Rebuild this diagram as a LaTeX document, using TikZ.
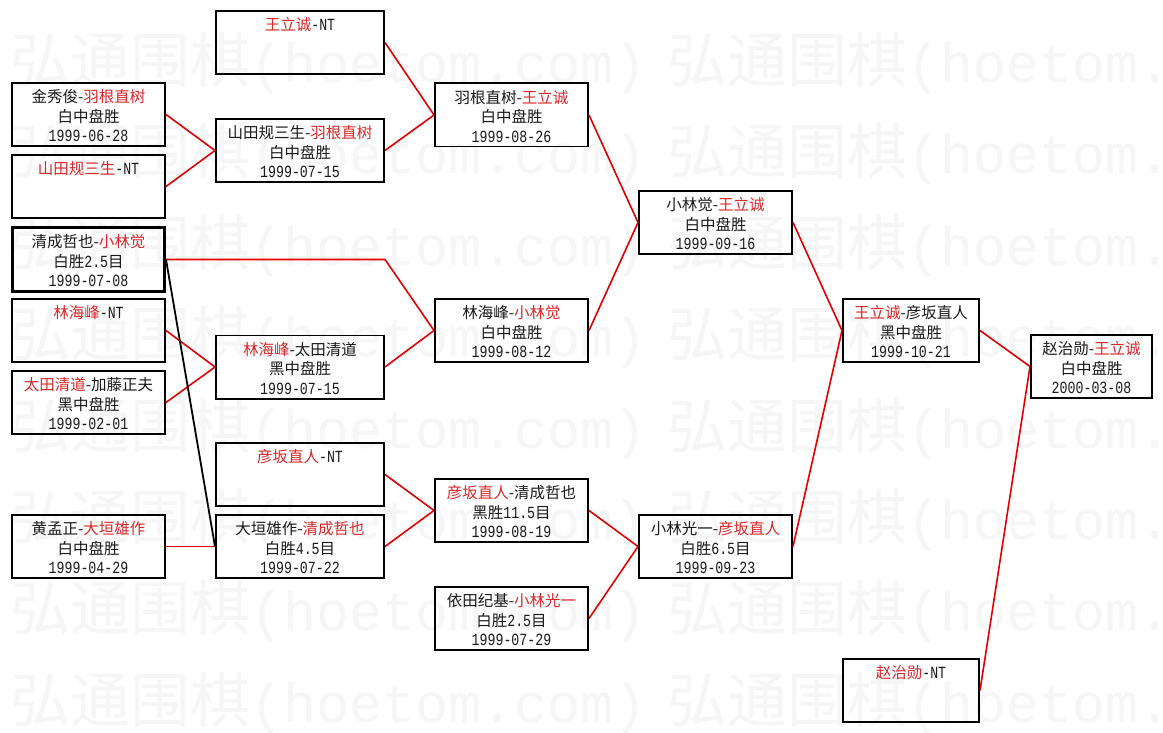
\documentclass[tikz,border=0pt]{standalone}
\usepackage{fontspec}
\setmainfont{Noto Sans CJK SC}
\newfontfamily\mono[FakeStretch=0.78]{Liberation Mono}
\newfontfamily\wmono{Liberation Mono}
\definecolor{tred}{RGB}{218,40,40}
\definecolor{lred}{RGB}{228,0,0}
\definecolor{txt}{RGB}{25,25,25}
\definecolor{wmgray}{RGB}{246,246,246}
\newcommand\R[1]{\textcolor{tred}{#1}}
\newcommand\M[1]{{\mono\fontsize{17}{19.5}\selectfont #1}}
\newcommand\gbox[2]{\begin{minipage}[c][63.4pt][t]{#1}\centering\fontsize{15.5}{19.5}\selectfont\rule{0pt}{20pt}#2\end{minipage}}
\tikzset{
  gamebox/.style={draw=black, line width=1.6pt, inner sep=0pt, minimum height=63.4pt, text=txt},
  curbox/.style={gamebox, line width=2.6pt},
  link/.style={draw=lred, line width=1.6pt},
  blink/.style={draw=black, line width=1.8pt},
  wm/.style={text=wmgray, inner sep=0pt, anchor=west, font=\fontsize{60}{60}\selectfont}
}
\begin{document}
\begin{tikzpicture}[x=1pt,y=-1pt]
\useasboundingbox (0,0) rectangle (1163,733);
\fill[white] (0,0) rectangle (1163,733);
% watermark
\foreach \wy in {63,154,246,337,429,520,611,703}{
  \foreach \wx in {10,667}{
    \node[wm] (wm-\wx-\wy) at (\wx,\wy) {弘通围棋{\wmono\fontsize{55}{55}\selectfont(hoetom.com)}};
  }
}
% column 1
\node[gamebox, minimum width=153.4pt] (B1) at (88.5,114.5) {\gbox{150pt}{金秀俊-\R{羽根直树}\\白中盘胜\\\M{1999-06-28}}};
\node[gamebox, minimum width=153.4pt] (B2) at (88.5,186.5) {\gbox{150pt}{\R{山田规三生}\M{-NT}}};
\node[curbox, minimum width=152.4pt, minimum height=62.4pt] (B3) at (88.5,259.5) {\gbox{150pt}{清成哲也-\R{小林觉}\\白胜\M{2.5}目\\\M{1999-07-08}}};
\node[gamebox, minimum width=153.4pt] (B4) at (88.5,330.5) {\gbox{150pt}{\R{林海峰}\M{-NT}}};
\node[gamebox, minimum width=153.4pt] (B5) at (88.5,402.5) {\gbox{150pt}{\R{太田清道}-加藤正夫\\黑中盘胜\\\M{1999-02-01}}};
\node[gamebox, minimum width=153.4pt] (B6) at (88.5,546.5) {\gbox{150pt}{黄孟正-\R{大垣雄作}\\白中盘胜\\\M{1999-04-29}}};
% column 2
\node[gamebox, minimum width=168.4pt] (A1) at (300,42.5) {\gbox{165pt}{\R{王立诚}\M{-NT}}};
\node[gamebox, minimum width=168.4pt] (A2) at (300,150.5) {\gbox{165pt}{山田规三生-\R{羽根直树}\\白中盘胜\\\M{1999-07-15}}};
\node[gamebox, minimum width=168.4pt] (A3) at (300,367) {\gbox{165pt}{\R{林海峰}-太田清道\\黑中盘胜\\\M{1999-07-15}}};
\node[gamebox, minimum width=168.4pt] (A4) at (300,474.5) {\gbox{165pt}{\R{彦坂直人}\M{-NT}}};
\node[gamebox, minimum width=168.4pt] (A5) at (300,546.5) {\gbox{165pt}{大垣雄作-\R{清成哲也}\\白胜\M{4.5}目\\\M{1999-07-22}}};
% column 3
\node[gamebox, minimum width=153.4pt] (C1) at (511.5,115) {\gbox{150pt}{羽根直树-\R{王立诚}\\白中盘胜\\\M{1999-08-26}}};
\node[gamebox, minimum width=153.4pt] (C2) at (511.5,330.5) {\gbox{150pt}{林海峰-\R{小林觉}\\白中盘胜\\\M{1999-08-12}}};
\node[gamebox, minimum width=153.4pt] (C3) at (511.5,510.5) {\gbox{150pt}{\R{彦坂直人}-清成哲也\\黑胜\M{11.5}目\\\M{1999-08-19}}};
\node[gamebox, minimum width=153.4pt] (C4) at (511.5,618.5) {\gbox{150pt}{依田纪基-\R{小林光一}\\白胜\M{2.5}目\\\M{1999-07-29}}};
% column 4
\node[gamebox, minimum width=153.4pt] (D1) at (715.5,222.5) {\gbox{150pt}{小林觉-\R{王立诚}\\白中盘胜\\\M{1999-09-16}}};
\node[gamebox, minimum width=153.4pt] (D2) at (715.5,546.5) {\gbox{150pt}{小林光一-\R{彦坂直人}\\白胜\M{6.5}目\\\M{1999-09-23}}};
% column 5
\node[gamebox, minimum width=136.4pt] (E1) at (911,330.5) {\gbox{133pt}{\R{王立诚}-彦坂直人\\黑中盘胜\\\M{1999-10-21}}};
\node[gamebox, minimum width=136.4pt] (E2) at (911,690.5) {\gbox{133pt}{\R{赵治勋}\M{-NT}}};
% column 6
\node[gamebox, minimum width=121.4pt] (F1) at (1091.5,366.5) {\gbox{118pt}{赵治勋-\R{王立诚}\\白中盘胜\\\M{2000-03-08}}};
% connectors
\draw[link] (A1.east) -- (C1.west);
\draw[link] (A2.east) -- (C1.west);
\draw[link] (B1.east) -- (A2.west);
\draw[link] (B2.east) -- (A2.west);
\draw[link] (B4.east) -- (A3.west);
\draw[link] (B5.east) -- (A3.west);
\draw[link] (A3.east) -- (C2.west);
\draw[link] (B3.east) -- (B3.east -| A3.east) -- (C2.west);
\draw[link] (C1.east) -- (D1.west);
\draw[link] (C2.east) -- (D1.west);
\draw[link] (A4.east) -- (C3.west);
\draw[link] (A5.east) -- (C3.west);
\draw[link] (B6.east) -- (A5.west);
\draw[blink] (B3.east) -- (A5.west);
\draw[link] (C3.east) -- (D2.west);
\draw[link] (C4.east) -- (D2.west);
\draw[link] (D1.east) -- (E1.west);
\draw[link] (D2.east) -- (E1.west);
\draw[link] (E1.east) -- (F1.west);
\draw[link] (E2.east) -- (F1.west);
\end{tikzpicture}
\end{document}
